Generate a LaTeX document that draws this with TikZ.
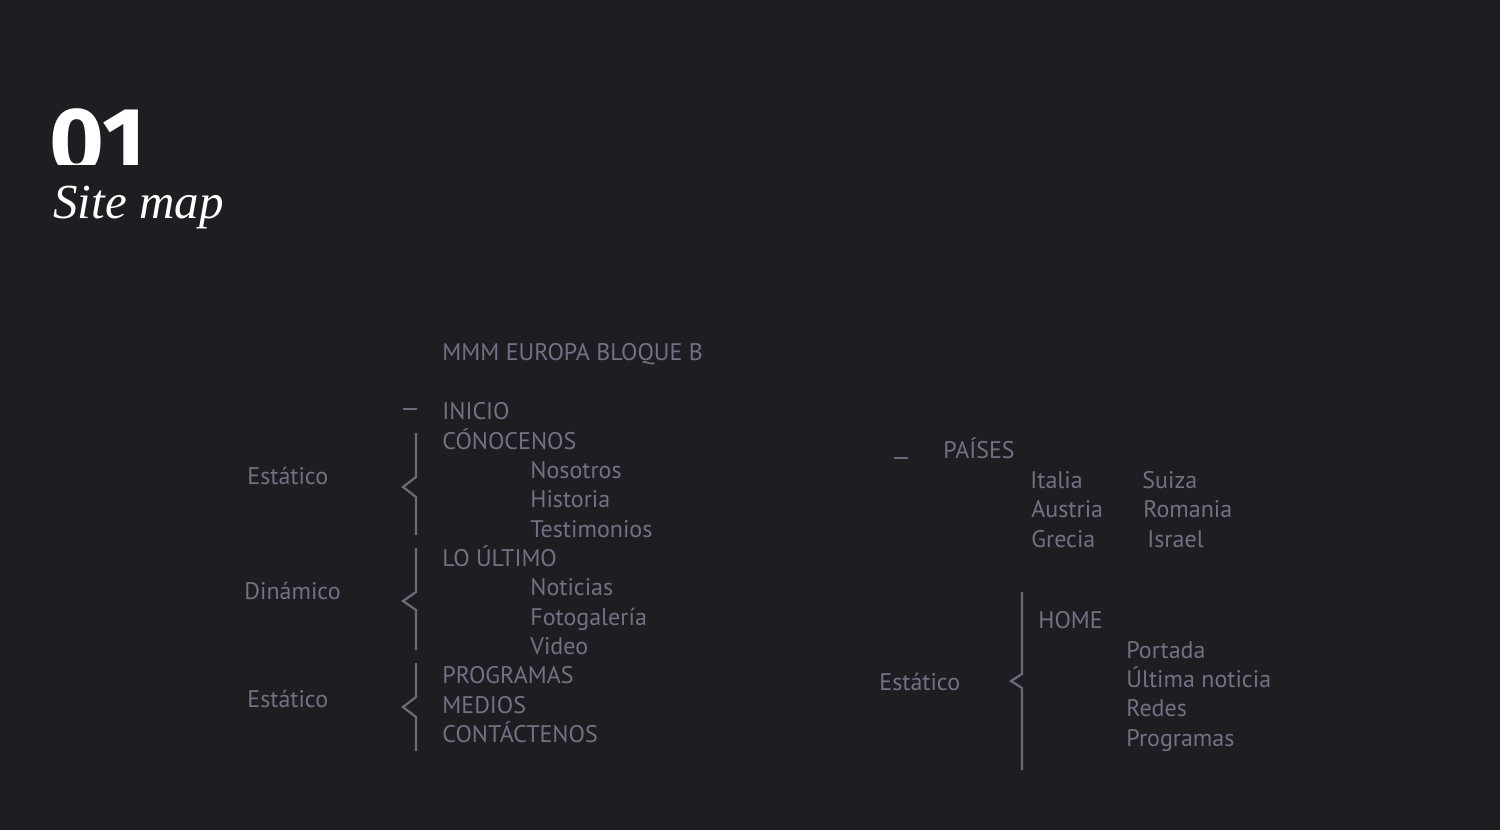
\documentclass[tikz,border=0pt]{standalone}
\usepackage{fontspec}
\setmainfont{PT Sans}
\newfontfamily\numfont{Fira Sans}
\newfontfamily\headfont{Liberation Serif}
\usepackage{tikz}

\definecolor{bgdark}{HTML}{1E1D22}
\definecolor{itemgray}{HTML}{757084}
\definecolor{bracegray}{HTML}{6E6A7C}

\tikzset{
    entry/.style={anchor=base west, inner sep=0pt, text=itemgray, font=\fontsize{12}{14}\selectfont},
    bracket/.style={draw=bracegray, line width=1.1pt},
}

\begin{document}
\begin{tikzpicture}[x=0.5pt, y=-0.5pt]
    \fill[bgdark] (0, 0) rectangle (1500, 830);
    \useasboundingbox (0, 0) rectangle (1500, 830);

    % bracket: x, top, notch start, notch tip, notch end, bottom
    \newcommand*{\drawbracket}[6]{
        \draw[bracket] (#1, #2) -- (#1, #3) -- (#4, #5) -- (#1, #5 + #5 - #3) -- (#1, #6);
    }

    % title
    \begin{scope}
        \clip (40, 90) rectangle (200, 164);
        \node[anchor=base west, inner sep=0pt, text depth=0pt, text=white, font=\numfont\bfseries\fontsize{47}{47}\selectfont] (num) at (49, 173) {01};
    \end{scope}
    \node[anchor=base west, inner sep=0pt, text=white, font=\headfont\itshape\fontsize{24.5}{27}\selectfont] (title) at (53, 218) {Site map};

    % left tree
    \node[entry] (root) at (442, 360) {MMM EUROPA BLOQUE B};
    \node[entry] (inicio) at (442, 419) {INICIO};
    \node[entry] (conocenos) at (442, 449) {CÓNOCENOS};
    \node[entry] (nosotros) at (530, 478) {Nosotros};
    \node[entry] (historia) at (530, 507) {Historia};
    \node[entry] (testimonios) at (530, 537) {Testimonios};
    \node[entry] (ultimo) at (442, 566) {LO ÚLTIMO};
    \node[entry] (noticias) at (530, 595) {Noticias};
    \node[entry] (fotogaleria) at (530, 625) {Fotogalería};
    \node[entry] (video) at (530, 654) {Video};
    \node[entry] (programas) at (442, 683) {PROGRAMAS};
    \node[entry] (medios) at (442, 713) {MEDIOS};
    \node[entry] (contactenos) at (442, 742) {CONTÁCTENOS};

    \node[entry] (estatico1) at (247, 484) {Estático};
    \node[entry] (dinamico) at (244, 599) {Dinámico};
    \node[entry] (estatico2) at (247, 707) {Estático};

    \draw[bracket] (403, 409) -- (417, 409);
    \drawbracket{416}{433}{477}{403}{487}{535}
    \drawbracket{416}{548}{592}{403}{601}{650}
    \drawbracket{416}{663}{697}{403}{707}{751}

    % right tree
    \node[entry] (paises) at (943, 458) {PAÍSES};
    \node[entry] (italia) at (1030, 488) {Italia};
    \node[entry] (suiza) at (1142, 488) {Suiza};
    \node[entry] (austria) at (1031, 517) {Austria};
    \node[entry] (romania) at (1143, 517) {Romania};
    \node[entry] (grecia) at (1031, 547) {Grecia};
    \node[entry] (israel) at (1147, 547) {Israel};

    \node[entry] (home) at (1038, 628) {HOME};
    \node[entry] (portada) at (1126, 658) {Portada};
    \node[entry] (ultimanoticia) at (1126, 687) {Última noticia};
    \node[entry] (redes) at (1126, 716) {Redes};
    \node[entry] (programas2) at (1126, 746) {Programas};
    \node[entry] (estatico3) at (879, 690) {Estático};

    \draw[bracket] (894, 458) -- (908, 458);
    \drawbracket{1022}{592}{674}{1011}{681}{770}

\end{tikzpicture}
\end{document}
